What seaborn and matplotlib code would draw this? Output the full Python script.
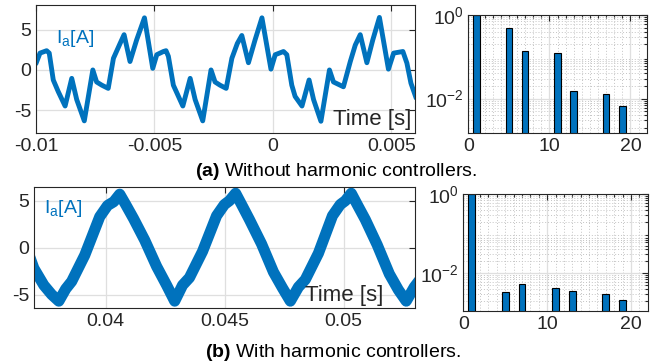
import matplotlib
matplotlib.use('Agg')
import numpy as np
import pandas as pd
import seaborn as sns
from matplotlib import pyplot as plt
from matplotlib import ticker

# (a) phase current without harmonic controllers, waypoints
t_a_ms = [-10.00, -9.83, -9.55, -9.44, -9.27, -9.06, -8.77, -8.49, -8.28, -7.96,
          -7.60, -7.44, -7.22, -6.95, -6.73, -6.45, -6.28, -6.03, -5.75, -5.42,
          -5.07, -4.90, -4.62, -4.51, -4.41, -4.20, -3.80, -3.49, -3.28, -2.96,
          -2.61, -2.44, -2.23, -1.97, -1.73, -1.50, -1.31, -1.03, -0.75, -0.46,
          -0.08, 0.10, 0.45, 0.59, 0.80, 0.94, 1.23, 1.53, 1.72, 2.03,
          2.39, 2.56, 2.98, 3.27, 3.48, 3.69, 3.97, 4.22, 4.50, 4.88,
          5.10, 5.49, 5.66, 5.83, 6.05]
i_a = [0.8, 2.1, 2.4, 2.1, -1.25, -2.7, -4.5, -1.05, -3.7, -6.35,
       0.0, -1.5, -1.9, -2.3, 1.45, 3.3, 4.4, 1.05, 3.75, 6.5,
       0.2, 1.9, 2.3, 2.4, 1.7, -1.9, -4.5, -1.05, -3.7, -6.35,
       0.0, -1.5, -1.9, -2.3, 1.45, 3.3, 4.3, 0.9, 3.75, 6.5,
       0.1, 1.9, 2.3, 1.9, -1.9, -3.3, -4.5, -1.25, -3.7, -6.4,
       0.0, -1.5, -2.1, 1.05, 3.1, 4.4, 0.9, 3.75, 6.55, 0.1,
       2.1, 2.3, 0.85, -1.65, -3.5]

# (b) phase current with harmonic controllers
t_b_ms = [36.81, 36.98, 37.40, 37.73, 38.03, 38.32, 38.57, 39.12, 39.75, 40.08,
          40.34, 40.59, 40.84, 41.17, 41.64, 42.14, 42.56, 42.90, 43.23, 43.52,
          44.07, 44.66, 44.99, 45.20, 45.46, 45.71, 46.04, 46.55, 47.05, 47.43,
          47.76, 48.10, 48.39, 48.94, 49.53, 49.86, 50.07, 50.32, 50.57, 50.91,
          51.41, 51.92, 52.30, 52.63, 52.97, 53.18]
i_b = [-1.0, -2.2, -4.0, -5.0, -5.7, -4.4, -3.6, -0.8, 3.3, 4.5,
       4.9, 5.7, 4.6, 3.1, 0.8, -2.0, -4.0, -5.7, -4.0, -3.2,
       -0.4, 3.4, 4.6, 5.0, 5.8, 4.6, 3.0, 0.4, -2.6, -4.3,
       -5.7, -4.2, -3.4, -0.6, 3.4, 4.6, 5.0, 5.8, 4.6, 3.0,
       0.3, -2.8, -4.5, -5.7, -4.2, -3.5]

# harmonic spectra (normalised to fundamental)
harmonics = [1, 5, 7, 11, 13, 17, 19]
spec_a = [1.0, 0.48, 0.14, 0.12, 0.0153, 0.0126, 0.0068]
spec_b = [1.0, 0.0033, 0.0054, 0.0043, 0.0035, 0.0030, 0.0021]

BLUE = '#0072BD'
DARK = '#262626'

sns.set_style('white')
plt.rcParams['font.family'] = ['Liberation Sans', 'DejaVu Sans']
plt.rcParams['mathtext.fontset'] = 'custom'
plt.rcParams['mathtext.rm'] = 'Liberation Sans'
plt.rcParams['mathtext.it'] = 'Liberation Sans:italic'
plt.rcParams['mathtext.bf'] = 'Liberation Sans:bold'
plt.rcParams['axes.unicode_minus'] = False


def style_axes(ax):
    for s in ax.spines.values():
        s.set_color(DARK)
        s.set_linewidth(0.8)
        s.set_visible(True)
    ax.tick_params(which='both', direction='in', top=True, right=True,
                   colors=DARK, labelsize=14, width=0.8)
    ax.tick_params(which='major', length=4)
    ax.tick_params(which='minor', length=2)
    ax.set_axisbelow(True)


def plot_wave(ax, t_ms, i, xlim, ylim, xticks, lw, label_pos, time_pos):
    df = pd.DataFrame({'t': np.array(t_ms) / 1000.0, 'i': i})
    sns.lineplot(data=df, x='t', y='i', ax=ax, color=BLUE, lw=lw,
                 estimator=None, sort=False)
    ax.set_xlim(*xlim)
    ax.set_ylim(*ylim)
    ax.set_xticks(xticks)
    ax.set_yticks([-5, 0, 5])
    ax.xaxis.set_major_formatter(ticker.FuncFormatter(lambda v, p: '%g' % round(v, 6)))
    ax.grid(True, which='major', color='#DFDFDF', lw=0.9)
    ax.set(xlabel='', ylabel='')
    style_axes(ax)
    ax.text(*label_pos, r'$\mathregular{I_a[A]}$', transform=ax.transAxes,
            color=BLUE, fontsize=14, ha='left', va='baseline')
    ax.text(*time_pos, 'Time [s]', transform=ax.transAxes, color=DARK,
            fontsize=16, ha='right', va='baseline')


def plot_spectrum(ax, spec, ylim):
    ax.bar(harmonics, spec, width=0.8, color=BLUE, edgecolor='black', lw=0.8)
    ax.set_yscale('log')
    ax.set_xlim(0, 22)
    ax.set_ylim(*ylim)
    ax.set_xticks([0, 10, 20])
    ax.xaxis.set_minor_locator(ticker.MultipleLocator(1))
    ax.set_yticks([1e-2, 1])
    ax.yaxis.set_major_formatter(ticker.FixedFormatter([r'$\mathregular{10^{-2}}$',
                                                        r'$\mathregular{10^{0}}$']))
    ax.yaxis.set_minor_locator(ticker.LogLocator(base=10, subs=np.arange(2, 10), numticks=20))
    ax.yaxis.set_minor_formatter(ticker.NullFormatter())
    ax.grid(True, which='major', color='#DFDFDF', lw=0.9)
    ax.grid(True, which='minor', color='#C4C4C4', lw=0.7, linestyle=(0, (1, 2)))
    style_axes(ax)


fig = plt.figure(figsize=(6.65, 3.64), dpi=100)
ax1 = fig.add_axes([0.0541, 0.6338, 0.5699, 0.3525])
ax2 = fig.add_axes([0.7042, 0.6338, 0.2683, 0.3250])
ax3 = fig.add_axes([0.0516, 0.1547, 0.5725, 0.3324])
ax4 = fig.add_axes([0.6967, 0.1456, 0.2773, 0.3214])

plot_wave(ax1, t_a_ms, i_a, (-0.01, 0.006), (-7.9, 8.1),
          [-0.01, -0.005, 0, 0.005], 3.5, (0.053, 0.704), (0.991, 0.062))
plot_wave(ax3, t_b_ms, i_b, (0.037, 0.053), (-6.4, 6.5),
          [0.04, 0.045, 0.05], 8, (0.026, 0.783), (0.917, 0.058))
plot_spectrum(ax2, spec_a, (10 ** -2.83, 1))
plot_spectrum(ax4, spec_b, (10 ** -2.95, 1))

fig.text(0.505, 0.5165, r'$\mathbf{(a)}$ Without harmonic controllers.',
         ha='center', va='baseline', fontsize=14, color='black')
fig.text(0.500, 0.0206, r'$\mathbf{(b)}$ With harmonic controllers.',
         ha='center', va='baseline', fontsize=14, color='black')

fig.savefig('out.png', dpi=100)
